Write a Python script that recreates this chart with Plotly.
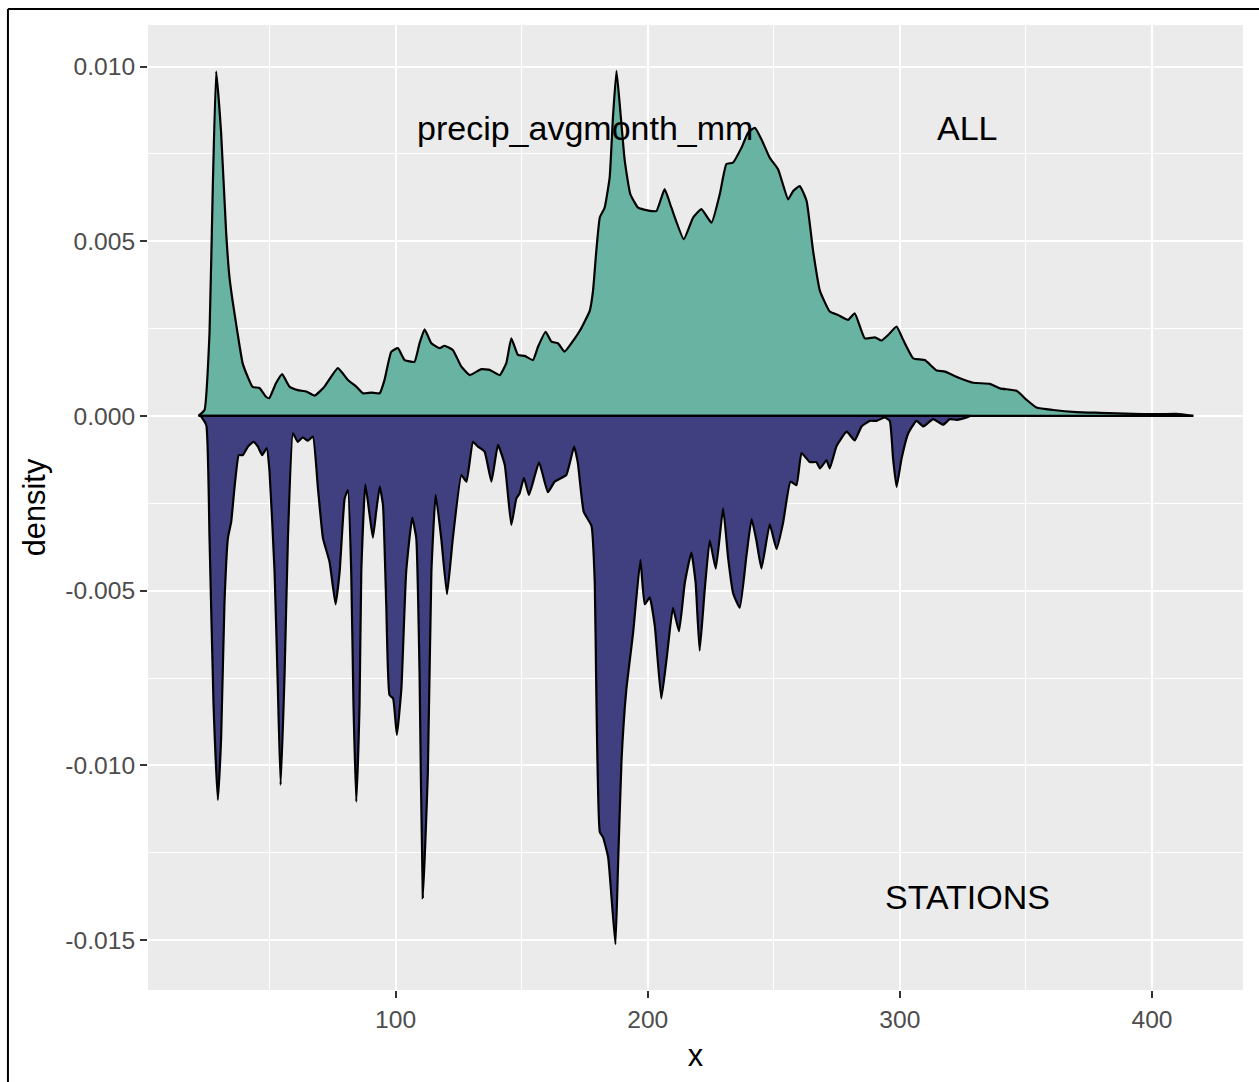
import plotly.graph_objects as go

# Kernel density of monthly precipitation (mm), all cells vs. station locations
all_x = [21.8, 24.2, 26.2, 27.5, 28.85, 30.8, 32.8, 34.1, 35.3, 37.3, 39.3, 41.3, 43.3, 46.0,
         48.6, 49.9, 52.5, 55.0, 57.9, 61.2, 64.6, 67.9, 71.8, 77.1, 81.1, 84.4, 87.0, 90.4,
         93.7, 95.6, 98.3, 100.9, 103.6, 107.5, 109.5, 111.5, 114.2, 117.5, 119.4, 122.7,
         126.1, 129.4, 134.0, 137.3, 141.3, 143.9, 145.9, 148.5, 151.2, 154.5, 156.5, 159.5,
         161.8, 164.4, 167.0, 170.4, 173.0, 177.0, 178.3, 179.6, 181.0, 182.9, 184.9, 186.2,
         187.6, 188.9, 190.9, 193.1, 196.2, 200.8, 203.5, 206.7, 209.4, 214.3, 218.0, 221.3,
         225.3, 228.6, 231.2, 233.8, 237.2, 239.8, 242.5, 245.1, 248.4, 251.7, 255.7, 257.7,
         260.3, 263.0, 265.6, 268.3, 272.2, 275.5, 279.5, 282.1, 286.1, 290.1, 292.7, 295.4,
         298.7, 301.3, 305.3, 309.9, 314.6, 317.9, 323.1, 329.1, 335.7, 339.7, 346.3, 350.3,
         354.2, 360.8, 370.1, 379.4, 392.6, 400.5, 409.8, 416.4]
all_density = [0.0, 0.00017, 0.00238, 0.00656, 0.00986, 0.00810, 0.00524, 0.00398, 0.00332,
               0.00238, 0.00152, 0.00113, 0.00083, 0.00080, 0.00055, 0.00051, 0.00093, 0.00120,
               0.00084, 0.00074, 0.00070, 0.00058, 0.00084, 0.00137, 0.00103, 0.00084, 0.00065,
               0.00067, 0.00065, 0.00103, 0.00184, 0.00194, 0.00160, 0.00155, 0.00208, 0.00248,
               0.00208, 0.00194, 0.00201, 0.00189, 0.00141, 0.00117, 0.00134, 0.00132, 0.00117,
               0.00151, 0.00222, 0.00175, 0.00172, 0.00160, 0.00198, 0.00241, 0.00213, 0.00208,
               0.00184, 0.00215, 0.00243, 0.00301, 0.00358, 0.00472, 0.00568, 0.00596, 0.00682,
               0.00854, 0.00988, 0.00892, 0.00730, 0.00635, 0.00596, 0.00587, 0.00587, 0.00649,
               0.00596, 0.00506, 0.00568, 0.00592, 0.00553, 0.00635, 0.00721, 0.00725, 0.00768,
               0.00811, 0.00825, 0.00792, 0.00739, 0.00706, 0.00620, 0.00644, 0.00658, 0.00616,
               0.00472, 0.00358, 0.00299, 0.00289, 0.00275, 0.00294, 0.00222, 0.00225, 0.00216,
               0.00232, 0.00256, 0.00218, 0.00165, 0.00160, 0.00130, 0.00127, 0.00110, 0.00095,
               0.00092, 0.00079, 0.00072, 0.00046, 0.00024, 0.00017, 0.00011, 0.00009, 0.00006,
               0.00005, 0.00006, 0.0]

stations_x = [22.7, 24.9, 26.2, 27.8, 29.5, 30.8, 32.1, 33.5, 34.8, 36.1, 37.8, 39.4, 41.4,
              43.7, 45.4, 47.1, 48.9, 50.0, 52.0, 53.3, 54.4, 56.0, 57.3, 59.3, 61.2, 63.2,
              65.2, 67.2, 69.2, 71.2, 73.8, 76.2, 77.8, 79.8, 81.1, 82.4, 83.3, 84.4, 85.7,
              86.4, 88.0, 89.7, 91.0, 92.3, 93.7, 95.0, 96.3, 97.6, 99.0, 100.5, 102.3, 104.2,
              106.6, 108.2, 109.5, 110.8, 112.8, 114.2, 115.9, 118.1, 120.4, 122.7, 126.1,
              128.1, 130.7, 132.7, 135.3, 138.0, 140.6, 143.3, 145.9, 147.9, 149.2, 150.9,
              152.9, 156.9, 160.4, 163.1, 167.7, 170.8, 172.3, 174.6, 177.7, 179.0, 179.6,
              181.0, 182.3, 184.3, 185.6, 187.2, 188.2, 189.6, 191.5, 194.2, 197.1, 198.8,
              200.8, 202.8, 205.4, 207.7, 210.0, 212.4, 214.7, 217.3, 219.0, 220.6, 222.6,
              224.6, 227.0, 229.9, 231.9, 233.9, 236.5, 239.2, 241.2, 243.1, 245.1, 248.4,
              251.1, 253.7, 256.6, 259.0, 261.0, 264.3, 266.9, 268.3, 270.9, 272.2, 274.9,
              278.9, 282.1, 284.8, 288.1, 290.8, 294.0, 296.0, 297.3, 298.7, 300.7, 303.3,
              306.6, 309.3, 313.2, 317.2, 319.8, 322.5, 326.5, 327.8]
stations_density = [0.0, 0.00026, 0.00349, 0.00827, 0.01099, 0.00922, 0.00541, 0.00349,
                    0.00303, 0.00206, 0.00112, 0.00112, 0.00088, 0.00074, 0.00088, 0.00112,
                    0.00092, 0.00159, 0.00446, 0.00779, 0.01056, 0.00732, 0.00349, 0.00050,
                    0.00074, 0.00061, 0.00071, 0.00059, 0.00207, 0.00350, 0.00417, 0.00539,
                    0.00446, 0.00236, 0.00212, 0.00446, 0.00827, 0.01104, 0.00827, 0.00446,
                    0.00196, 0.00283, 0.00348, 0.00274, 0.00202, 0.00255, 0.00541, 0.00799,
                    0.00808, 0.00913, 0.00780, 0.00446, 0.00291, 0.00350, 0.00732, 0.01380,
                    0.01018, 0.00446, 0.00226, 0.00350, 0.00510, 0.00350, 0.00169, 0.00188,
                    0.00074, 0.00088, 0.00102, 0.00188, 0.00083, 0.00140, 0.00312, 0.00236,
                    0.00221, 0.00177, 0.00226, 0.00133, 0.00218, 0.00188, 0.00169, 0.00088,
                    0.00135, 0.00274, 0.00315, 0.00478, 0.00784, 0.01191, 0.01206, 0.01263,
                    0.01374, 0.01512, 0.01293, 0.00987, 0.00784, 0.00621, 0.00412, 0.00539,
                    0.00519, 0.00600, 0.00809, 0.00682, 0.00549, 0.00616, 0.00478, 0.00391,
                    0.00478, 0.00672, 0.00498, 0.00356, 0.00437, 0.00264, 0.00407, 0.00508,
                    0.00549, 0.00397, 0.00295, 0.00356, 0.00437, 0.00310, 0.00381, 0.00305,
                    0.00188, 0.00198, 0.00106, 0.00132, 0.00132, 0.00150, 0.00127, 0.00150,
                    0.00086, 0.00045, 0.00070, 0.00030, 0.00014, 0.00014, 0.00004, 0.00014,
                    0.00121, 0.00203, 0.00121, 0.00050, 0.00014, 0.00030, 0.00009, 0.00025,
                    0.00009, 0.00011, 0.00004, 0.0]

y_tick_vals = [-0.015, -0.010, -0.005, 0.0, 0.005, 0.010]
y_tick_text = ["-0.015", "-0.010", "-0.005", "0.000", "0.005", "0.010"]
x_tick_vals = [100, 200, 300, 400]
x_tick_text = ["100", "200", "300", "400"]

FONT = "Liberation Sans, Arial, sans-serif"
OUTLINE = dict(color="black", width=2.2, shape="spline", smoothing=0.4)

fig = go.Figure()


def add_density(xs, ys, fill):
    # filled density area with its outline
    fig.add_trace(go.Scatter(
        x=xs, y=ys, mode="lines", fill="tozeroy", fillcolor=fill,
        line=OUTLINE, hoverinfo="skip", showlegend=False,
    ))
    # outline along the baseline under the area
    fig.add_trace(go.Scatter(
        x=[xs[0], xs[-1]], y=[0, 0], mode="lines",
        line=dict(color="black", width=2.2), hoverinfo="skip", showlegend=False,
    ))


add_density(all_x, all_density, "#69b3a2")
add_density(stations_x, [-v for v in stations_density], "#404080")

label_font = dict(family=FONT, size=34, color="black")
fig.add_annotation(x=175.2, y=0.00825, text="precip_avgmonth_mm", showarrow=False,
                   font=label_font, xanchor="center", yanchor="middle")
fig.add_annotation(x=327, y=0.00825, text="ALL", showarrow=False,
                   font=label_font, xanchor="center", yanchor="middle")
fig.add_annotation(x=327, y=-0.01377, text="STATIONS", showarrow=False,
                   font=label_font, xanchor="center", yanchor="middle")

# outer frame (top and left edges)
fig.add_shape(type="line", xref="paper", yref="paper", x0=-0.1279, x1=1.02,
              y0=1.0166, y1=1.0166, line=dict(color="black", width=2), layer="above")
fig.add_shape(type="line", xref="paper", yref="paper", x0=-0.1279, x1=-0.1279,
              y0=1.0166, y1=-0.1, line=dict(color="black", width=2), layer="above")

axis_common = dict(
    showline=False, zeroline=False, ticks="outside", ticklen=7, tickwidth=2,
    tickcolor="#333333", showgrid=True, gridcolor="white", gridwidth=2.4,
    tickfont=dict(family=FONT, size=24.6, color="#4D4D4D"),
)

fig.update_xaxes(
    range=[1.8, 436.1], tickmode="array", tickvals=x_tick_vals, ticktext=x_tick_text,
    minor=dict(dtick=50, tick0=0, showgrid=True, gridcolor="white", gridwidth=1.2, ticks=""),
    title=dict(text="x", font=dict(family=FONT, size=30.8, color="black"), standoff=12),
    **axis_common,
)
fig.update_yaxes(
    range=[-0.01643, 0.01119], tickmode="array", tickvals=y_tick_vals, ticktext=y_tick_text,
    minor=dict(dtick=0.0025, tick0=0, showgrid=True, gridcolor="white", gridwidth=1.2, ticks=""),
    title=dict(text="density", font=dict(family=FONT, size=30.8, color="black"), standoff=10),
    **axis_common,
)

fig.update_layout(
    width=1259, height=1082,
    margin=dict(l=148, r=16, t=25, b=92, autoexpand=False),
    paper_bgcolor="white", plot_bgcolor="#EBEBEB",
    font=dict(family=FONT),
)

fig.write_html("out.html")
